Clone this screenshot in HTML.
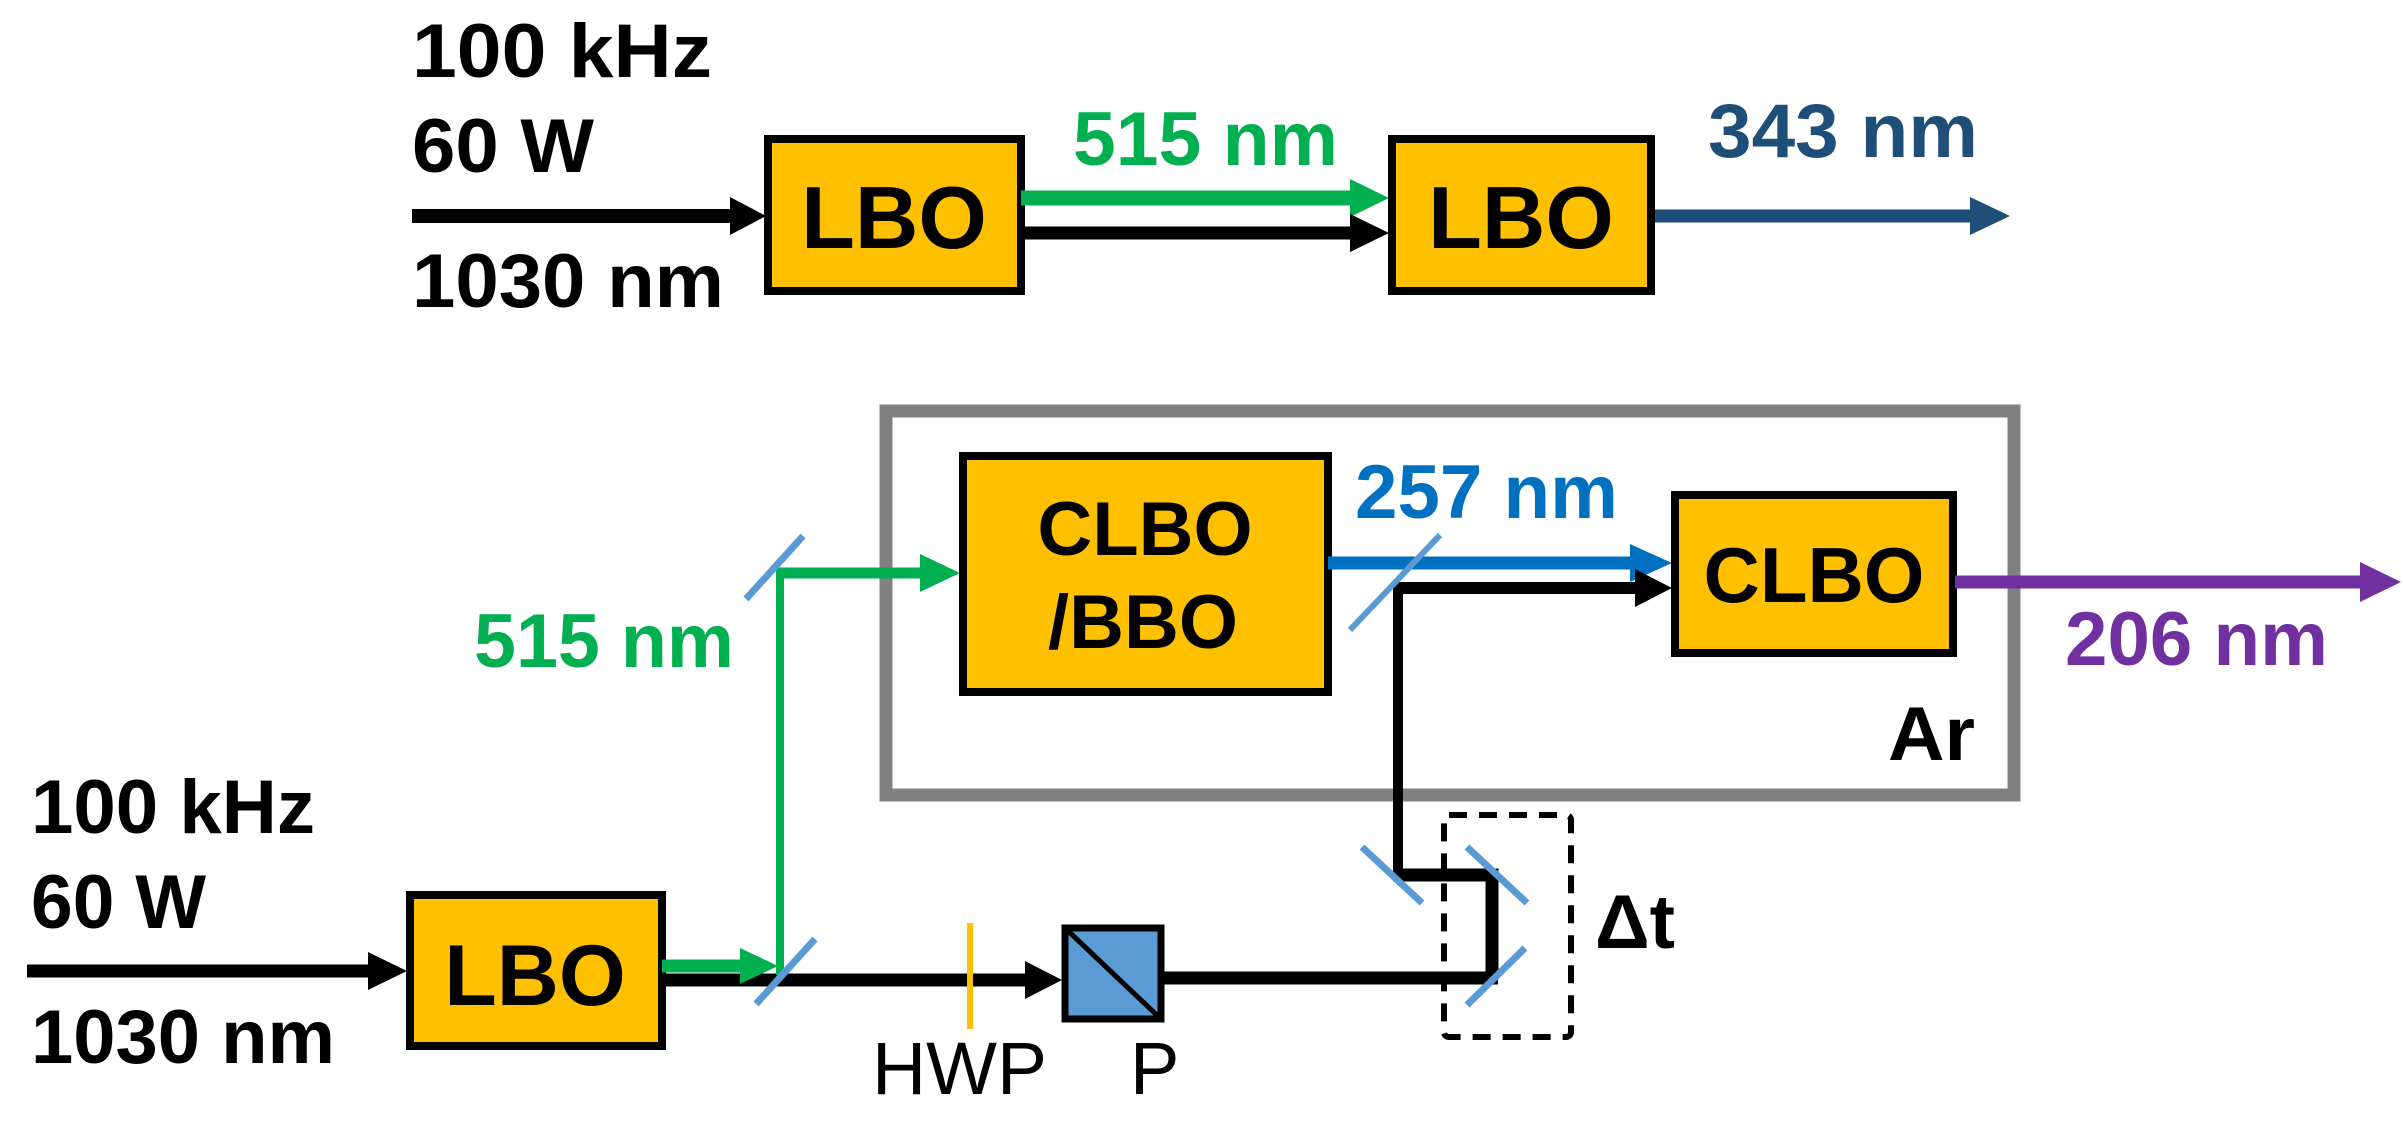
<!DOCTYPE html>
<html><head><meta charset="utf-8"><style>
html,body{margin:0;padding:0;background:#fff;}
svg{display:block;}
text{font-family:"Liberation Sans",Arial,sans-serif;font-weight:bold;}
</style></head><body>
<svg width="2403" height="1122" viewBox="0 0 2403 1122" xmlns="http://www.w3.org/2000/svg">
<!-- TOP -->
<text x="412" y="77" font-size="76" textLength="300" lengthAdjust="spacingAndGlyphs">100 kHz</text>
<text x="412" y="172" font-size="76" textLength="182" lengthAdjust="spacingAndGlyphs">60 W</text>
<text x="412" y="307" font-size="76" textLength="312" lengthAdjust="spacingAndGlyphs">1030 nm</text>
<line x1="412" y1="216" x2="735" y2="216" stroke="#000" stroke-width="14"/>
<polygon points="730,197 766,216 730,235" fill="#000"/>
<rect x="768" y="139" width="253" height="152" fill="#FFC000" stroke="#000" stroke-width="8"/>
<text x="894" y="248" font-size="88" text-anchor="middle">LBO</text>
<line x1="1021" y1="198" x2="1355" y2="198" stroke="#00B050" stroke-width="15"/>
<polygon points="1350,179 1389,198 1350,217" fill="#00B050"/>
<line x1="1021" y1="233" x2="1355" y2="233" stroke="#000" stroke-width="13"/>
<polygon points="1350,214 1389,233 1350,252" fill="#000"/>
<text x="1073" y="165" font-size="76" fill="#00B050" textLength="265" lengthAdjust="spacingAndGlyphs">515 nm</text>
<rect x="1392" y="139" width="259" height="152" fill="#FFC000" stroke="#000" stroke-width="8"/>
<text x="1521" y="248" font-size="88" text-anchor="middle">LBO</text>
<line x1="1655" y1="216" x2="1975" y2="216" stroke="#1F4E79" stroke-width="13"/>
<polygon points="1970,197 2010,216 1970,235" fill="#1F4E79"/>
<text x="1708" y="157" font-size="76" fill="#1F4E79" textLength="270" lengthAdjust="spacingAndGlyphs">343 nm</text>

<!-- BOTTOM -->
<rect x="886" y="411" width="1128" height="384" fill="none" stroke="#808080" stroke-width="13"/>
<text x="31" y="833" font-size="76" textLength="284" lengthAdjust="spacingAndGlyphs">100 kHz</text>
<text x="31" y="928" font-size="76" textLength="175" lengthAdjust="spacingAndGlyphs">60 W</text>
<text x="31" y="1063" font-size="76" textLength="304" lengthAdjust="spacingAndGlyphs">1030 nm</text>
<line x1="27" y1="971" x2="372" y2="971" stroke="#000" stroke-width="13"/>
<polygon points="368,952 407,971 368,990" fill="#000"/>
<rect x="410" y="895" width="252" height="151" fill="#FFC000" stroke="#000" stroke-width="8"/>
<text x="535" y="1005" font-size="86" text-anchor="middle">LBO</text>
<!-- black main line -->
<line x1="662" y1="980" x2="1030" y2="980" stroke="#000" stroke-width="13"/>
<polygon points="1025,961 1062,980 1025,999" fill="#000"/>
<line x1="1164" y1="978" x2="1498" y2="978" stroke="#000" stroke-width="13"/>
<!-- green -->
<line x1="662" y1="966" x2="745" y2="966" stroke="#00B050" stroke-width="13"/>
<polygon points="740,948 778,966 740,984" fill="#00B050"/>
<line x1="780" y1="975" x2="780" y2="573" stroke="#00B050" stroke-width="8"/>
<line x1="776" y1="573" x2="925" y2="573" stroke="#00B050" stroke-width="11"/>
<polygon points="920,554 960,573 920,592" fill="#00B050"/>
<text x="474" y="667" font-size="76" fill="#00B050" textLength="260" lengthAdjust="spacingAndGlyphs">515 nm</text>
<!-- mirrors -->
<line x1="803" y1="536" x2="746" y2="599" stroke="#5B9BD5" stroke-width="7"/>
<line x1="815" y1="939" x2="756" y2="1004" stroke="#5B9BD5" stroke-width="7"/>
<!-- HWP -->
<line x1="970" y1="923" x2="970" y2="1029" stroke="#FFC000" stroke-width="6"/>
<text x="872" y="1094" font-size="74" style="font-weight:normal" textLength="175" lengthAdjust="spacingAndGlyphs">HWP</text>
<!-- P cube -->
<rect x="1065" y="928" width="96" height="91" fill="#5B9BD5" stroke="#000" stroke-width="7"/>
<line x1="1065" y1="928" x2="1161" y2="1019" stroke="#000" stroke-width="5"/>
<text x="1130" y="1094" font-size="74" style="font-weight:normal">P</text>
<!-- CLBO/BBO -->
<rect x="963" y="456" width="365" height="236" fill="#FFC000" stroke="#000" stroke-width="8"/>
<text x="1145" y="555" font-size="76" text-anchor="middle">CLBO</text>
<text x="1143" y="648" font-size="76" text-anchor="middle">/BBO</text>
<!-- blue 257 -->
<line x1="1328" y1="563" x2="1635" y2="563" stroke="#0070C0" stroke-width="13"/>
<polygon points="1630,544 1672,563 1630,582" fill="#0070C0"/>
<text x="1355" y="518" font-size="76" fill="#0070C0" textLength="263" lengthAdjust="spacingAndGlyphs">257 nm</text>
<!-- black to CLBO -->
<polyline points="1398,875 1398,588 1640,588" fill="none" stroke="#000" stroke-width="10"/>
<line x1="1398" y1="588" x2="1640" y2="588" stroke="#000" stroke-width="12"/>
<polygon points="1635,569 1672,588 1635,607" fill="#000"/>
<line x1="1440" y1="535" x2="1350" y2="630" stroke="#5B9BD5" stroke-width="6"/>
<!-- CLBO -->
<rect x="1675" y="495" width="278" height="158" fill="#FFC000" stroke="#000" stroke-width="8"/>
<text x="1814" y="602" font-size="78" text-anchor="middle">CLBO</text>
<line x1="1955" y1="582" x2="2365" y2="582" stroke="#7030A0" stroke-width="13"/>
<polygon points="2360,562 2401,582 2360,602" fill="#7030A0"/>
<text x="2065" y="665" font-size="76" fill="#7030A0" textLength="263" lengthAdjust="spacingAndGlyphs">206 nm</text>
<text x="1888" y="760" font-size="76" textLength="87" lengthAdjust="spacingAndGlyphs">Ar</text>
<!-- delay line -->
<polyline points="1393,875 1492,875 1492,978" fill="none" stroke="#000" stroke-width="13"/>
<rect x="1444" y="815" width="127" height="222" rx="5" fill="none" stroke="#000" stroke-width="6" stroke-dasharray="18,12"/>
<line x1="1362" y1="847" x2="1422" y2="903" stroke="#5B9BD5" stroke-width="7"/>
<line x1="1467" y1="847" x2="1527" y2="903" stroke="#5B9BD5" stroke-width="7"/>
<line x1="1467" y1="1005" x2="1525" y2="948" stroke="#5B9BD5" stroke-width="7"/>
<text x="1595" y="948" font-size="76" textLength="80" lengthAdjust="spacingAndGlyphs">Δt</text>
</svg>
</body></html>
